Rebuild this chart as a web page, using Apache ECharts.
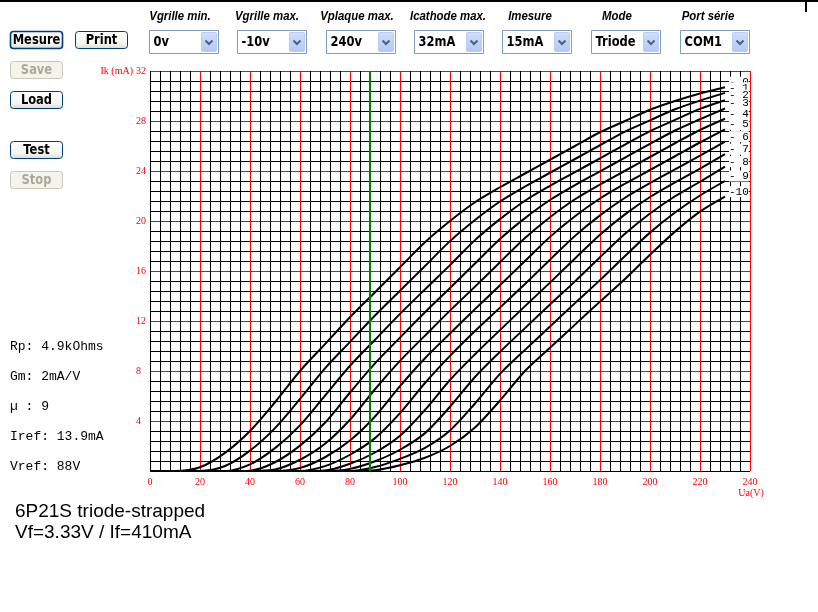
<!DOCTYPE html>
<html><head><meta charset="utf-8">
<script src="https://cdn.jsdelivr.net/npm/echarts@6/dist/echarts.min.js"></script>
<style>html,body{margin:0;padding:0;background:#fff}#c{width:818px;height:612px}</style>
</head><body><div id="c"></div>
<script>
// ---- data ----
const plateVoltage = [0,10,20,30,40,50,60,70,80,90,100,110,120,130,140,150,160,170,180,190,200,210,220,230];
const gridVoltages = [0,-1,-2,-3,-4,-5,-6,-7,-8,-9,-10];
const ik_g0  = [0,0,0.3,1.45,3.2,5.5,8.0,10.15,12.3,14.3,16.3,18.3,20.0,21.5,22.7,23.8,24.9,26.0,27.1,28.0,28.9,29.6,30.2,30.7];
const ik_g1  = [0,0,0,0.4,1.63,3.43,5.77,8.21,10.33,12.44,14.42,16.4,18.39,20.08,21.56,22.76,23.86,24.96,26.06,27.15,28.05,28.94,29.63,30.25];
const ik_g2  = [0,0,0,0,0.53,1.83,3.65,6.03,8.42,10.5,12.57,14.53,16.47,18.47,20.15,21.62,22.81,23.91,25.01,26.11,27.19,28.09,28.97,29.66];
const ik_g3  = [0,0,0,0,0.03,0.7,2.03,3.86,6.28,8.61,10.67,12.7,14.64,16.6,18.56,20.23,21.68,22.87,23.97,25.07,26.17,27.24,28.14,29.0];
const ik_g4  = [0,0,0,0,0,0.12,0.9,2.18,4.1,6.54,8.81,10.83,12.83,14.75,16.7,18.64,20.3,21.74,22.92,24.02,25.12,26.22,27.28,28.18];
const ik_g5  = [0,0,0,0,0,0,0.24,1.1,2.44,4.36,6.79,9.02,11.0,12.95,14.86,16.8,18.73,20.38,21.8,22.98,24.08,25.18,26.28,27.33];
const ik_g6  = [0,0,0,0,0,0,0,0.39,1.3,2.63,4.63,7.04,9.21,11.2,13.07,14.96,16.9,18.81,20.45,21.86,23.03,24.13,25.23,26.35];
const ik_g7  = [0,0,0,0,0,0,0,0.04,0.58,1.48,2.82,4.89,7.28,9.34,11.27,13.19,15.07,17.0,18.9,20.53,21.92,23.09,24.19,25.35];
const ik_g8  = [0,0,0,0,0,0,0,0,0.17,0.78,1.7,3.03,5.14,7.52,9.53,11.43,13.32,15.17,17.1,18.98,20.6,21.98,23.14,24.35];
const ik_g9  = [0,0,0,0,0,0,0,0,0,0.32,0.97,1.85,3.24,5.4,7.77,9.69,11.56,13.43,15.27,17.2,19.07,20.68,22.04,23.2];
const ik_g10 = [0,0,0,0,0,0,0,0,0,0.06,0.46,1.06,2.0,3.48,5.64,8.0,9.86,11.71,13.55,15.36,17.3,19.15,20.75,21.95];
const currents = [ik_g0,ik_g1,ik_g2,ik_g3,ik_g4,ik_g5,ik_g6,ik_g7,ik_g8,ik_g9,ik_g10];
const vref = 88, iref = 13.9, rp = 4.9, gm = 2, mu = 9;
const tubeName = '6P21S triode-strapped';
const heater = 'Vf=3.33V / If=410mA';
const ctrlLabels = ['Vgrille min.','Vgrille max.','Vplaque max.','Icathode max.','Imesure','Mode','Port série'];
const ctrlValues = ['0v','-10v','240v','32mA','15mA','Triode','COM1'];
const buttonLabels = ['Mesure','Print','Save','Load','Test','Stop'];
const buttonEnabled = [true,true,false,true,true,false];

// ---- layout / style ----
const RED = '#ff0000';
const xLineColors = Array.from({length:61},(_,i)=> (i>0 && i%5===0) ? RED : '#000000');
const yLineColors = Array.from({length:41},(_,i)=> (i>0 && i%5===0) ? RED : '#000000');
const btnFont = 'bold 14px "DejaVu Sans"';
const els = [];
els.push({type:'rect', shape:{x:0,y:0,width:818,height:2}, style:{fill:'#000'}});
els.push({type:'rect', shape:{x:805,y:0,width:2,height:12}, style:{fill:'#000'}});
const btnPos = [[10.5,31.5],[75.5,31.5],[10.5,61.5],[10.5,91.5],[10.5,141.5],[10.5,171.5]];
buttonLabels.forEach((t,i)=>{
  const [x,y] = btnPos[i]; const en = buttonEnabled[i];
  els.push({type:'rect', shape:{x,y,width:52,height:17,r:3},
    style:{fill: en ? {type:'linear',x:0,y:0,x2:0,y2:1,colorStops:[{offset:0,color:'#ffffff'},{offset:0.7,color:'#f4f4f0'},{offset:1,color:'#d8d8cf'}]} : '#f5f4ea',
           stroke: en ? '#003c74' : '#c9c7ba', lineWidth: en && i===0 ? 1.6 : 1}});
  els.push({type:'text', x:x+26, y:y+9, scaleX:0.82,
    style:{text:t, font:btnFont, fill: en ? '#000' : '#aca899', align:'center', verticalAlign:'middle'}});
});
const boxX = [149.5,237.5,326.5,414.5,502.5,591.5,680.5];
const labelCx = [180,267,357,448,530,617,708];
ctrlLabels.forEach((t,i)=>{
  els.push({type:'text', x:labelCx[i], y:17, scaleX:0.95,
    style:{text:t, font:'italic bold 12px "Liberation Sans"', fill:'#000', align:'center', verticalAlign:'middle'}});
  const x = boxX[i], y = 30.5, w = 69, h = 23;
  els.push({type:'rect', shape:{x,y,width:w,height:h}, style:{fill:'#fff', stroke:'#7f9db9', lineWidth:1}});
  els.push({type:'rect', shape:{x:x+w-17,y:y+2,width:15,height:19,r:1},
    style:{fill:{type:'linear',x:0,y:0,x2:0,y2:1,colorStops:[{offset:0,color:'#d2defb'},{offset:1,color:'#b3c8f6'}]}, stroke:'#b9cbf6', lineWidth:1}});
  const cx = x+w-9.5, cy = y+12;
  els.push({type:'polyline', shape:{points:[[cx-3.5,cy-2],[cx,cy+1.5],[cx+3.5,cy-2]]}, style:{stroke:'#4d6185', lineWidth:2, fill:null}});
  els.push({type:'text', x:x+4, y:42, scaleX:0.82,
    style:{text:ctrlValues[i], font:btnFont, fill:'#000', align:'left', verticalAlign:'middle'}});
});
const info = ['Rp: '+rp+'kOhms','Gm: '+gm+'mA/V','\u00b5 : '+mu,'Iref: '+iref+'mA','Vref: '+vref+'V'];
info.forEach((t,i)=>{
  els.push({type:'text', x:10, y:347+30*i, style:{text:t, font:'13px "Liberation Mono"', fill:'#000', align:'left', verticalAlign:'middle'}});
});
els.push({type:'text', x:15, y:512, style:{text:tubeName, font:'19px "Liberation Sans"', fill:'#000', align:'left', verticalAlign:'middle'}});
els.push({type:'text', x:15, y:533, style:{text:heater, font:'19px "Liberation Sans"', fill:'#000', align:'left', verticalAlign:'middle'}});
els.push({type:'text', x:133, y:71, style:{text:'Ik (mA)', font:'10px "Liberation Serif"', fill:RED, align:'right', verticalAlign:'middle'}});
els.push({type:'text', x:751, y:493, style:{text:'Ua(V)', font:'10px "Liberation Serif"', fill:RED, align:'center', verticalAlign:'middle'}});

const series = currents.map((arr,k)=>{
  const g = Math.abs(gridVoltages[k]);
  const s = {
    type:'line', name:String(gridVoltages[k]),
    data: plateVoltage.map((v,j)=>[v, arr[j]]),
    showSymbol:false, symbol:'none', smooth:0.3,
    lineStyle:{color:'#000', width:2}, z:3,
    endLabel:{show:true, formatter: '-' + (g<10 ? ' '+g : String(g)), distance:4, offset:[0,-5],
      fontFamily:'Liberation Mono', fontSize:11, color:'#000', backgroundColor:'#fff', padding:0}
  };
  if (k===0) s.markLine = {silent:true, symbol:'none', label:{show:false}, animation:false,
      lineStyle:{color:'#008000', width:2, type:'solid'}, data:[{xAxis:vref}]};
  return s;
});

const chart = echarts.init(document.getElementById('c'), null, {renderer:'canvas'});
chart.setOption({
  animation:false,
  backgroundColor:'#ffffff',
  grid:{left:150, top:71, width:600, height:400, containLabel:false},
  xAxis:{type:'value', min:0, max:240, interval:4,
    axisLine:{show:false}, axisTick:{show:false},
    axisLabel:{color:RED, fontFamily:'Liberation Serif', fontSize:10, margin:6,
      formatter:v=>{const r=Math.round(v); return r%20===0 ? String(r) : '';}},
    splitLine:{show:true, lineStyle:{color:xLineColors, width:1}}},
  yAxis:{type:'value', min:0, max:32, interval:0.8,
    axisLine:{show:false}, axisTick:{show:false},
    axisLabel:{color:RED, fontFamily:'Liberation Serif', fontSize:10, align:'left', margin:14,
      formatter:v=>{const t=Math.round(v*10); return (t>0 && t%40===0) ? String(t/10) : '';}},
    splitLine:{show:true, lineStyle:{color:yLineColors, width:1}}},
  graphic:{elements:els},
  series
});
</script></body></html>
